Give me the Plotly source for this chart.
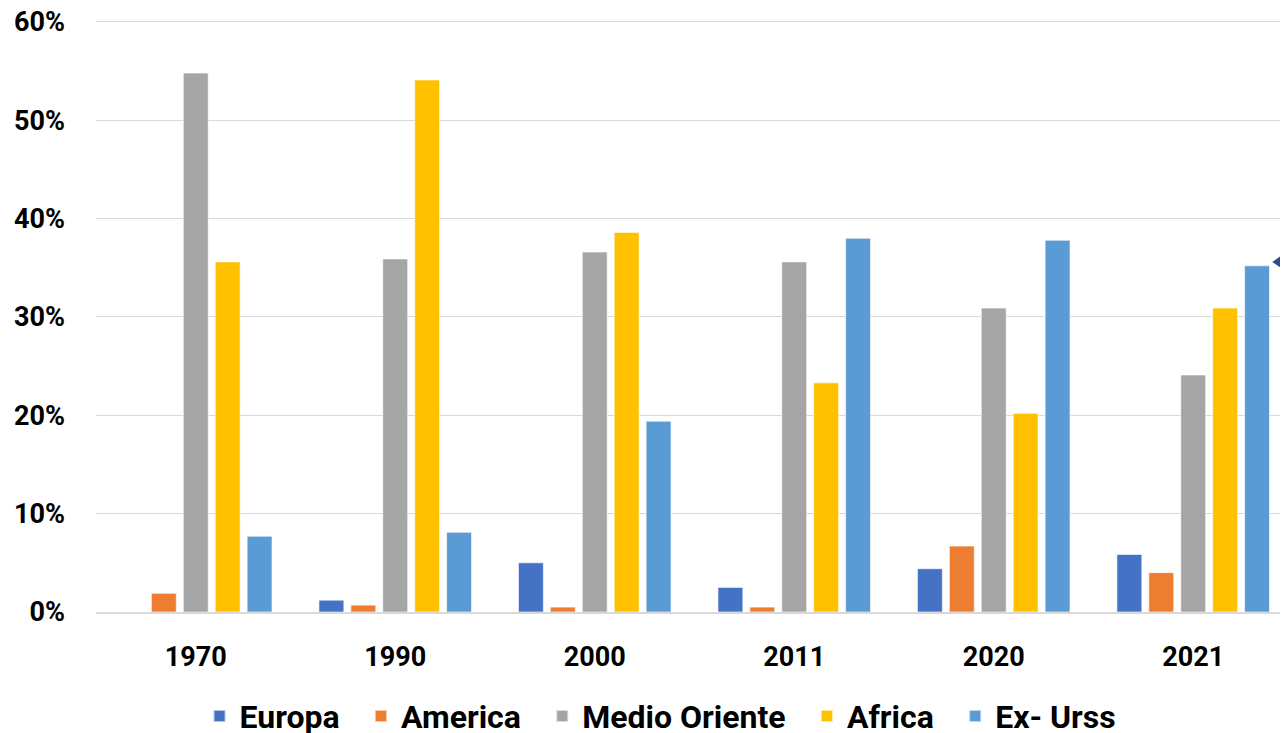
import plotly.graph_objects as go

years = ["1970", "1990", "2000", "2011", "2020", "2021"]
europa = [0.0, 1.2, 5.0, 2.5, 4.4, 5.85]
america = [1.9, 0.7, 0.5, 0.5, 6.7, 4.0]
medio_oriente = [54.8, 35.9, 36.6, 35.6, 30.9, 24.1]
africa = [35.6, 54.1, 38.6, 23.3, 20.2, 30.9]
ex_urss = [7.7, 8.1, 19.4, 38.0, 37.8, 35.2]

series = [
    ("Europa", europa, "#4472C4"),
    ("America", america, "#ED7D31"),
    ("Medio Oriente", medio_oriente, "#A5A5A5"),
    ("Africa", africa, "#FFC000"),
    ("Ex- Urss", ex_urss, "#5B9BD5"),
]

GAP = "\u2002"
fig = go.Figure()
for i, (name, vals, col) in enumerate(series):
    label = name + (GAP if i < len(series) - 1 else "")
    fig.add_trace(go.Bar(
        x=years, y=[v / 100 for v in vals], name=label,
        marker=dict(color=col, line=dict(color="rgba(255,255,255,0.6)", width=1)),
    ))

FONT = "Roboto"
fig.update_layout(
    width=1272, height=733,
    margin=dict(l=88, r=0, t=10, b=129),
    paper_bgcolor="white", plot_bgcolor="white",
    barmode="group", bargap=0.2, bargroupgap=0.22,
    font=dict(family=FONT, size=26, color="#000000", weight="bold"),
    showlegend=True,
    legend=dict(orientation="h", x=0.4768, xanchor="center", yref="container", y=0.034, yanchor="middle",
                font=dict(family=FONT, size=32, color="#000000", weight="bold"),
                itemsizing="constant", traceorder="normal"),
    xaxis=dict(range=[-0.5, 5.435], showgrid=False, showline=True, linecolor="#d9d9d9", linewidth=2,
               ticks="", ticklabelstandoff=20, automargin=False,
               tickfont=dict(family=FONT, size=27, color="#000000", weight="bold")),
    yaxis=dict(range=[0, 0.604], tickvals=[0, 0.1, 0.2, 0.3, 0.4, 0.5, 0.6], tickformat=".0%",
               showgrid=True, gridcolor="#d9d9d9", automargin=False, ticklabeloverflow="allow",
               gridwidth=1, zeroline=False, showline=False, ticks="", ticklabelstandoff=30,
               tickfont=dict(family=FONT, size=27, color="#000000", weight="bold")),
)

# partial arrowhead entering from the right edge (decoration)
fig.add_shape(type="path", xref="paper", yref="y",
              path="M 0.9935,0.356 L 1.0,0.3615 L 1.0,0.3505 Z",
              fillcolor="#2E4C8C", line=dict(width=0))

fig.write_html("out.html")
